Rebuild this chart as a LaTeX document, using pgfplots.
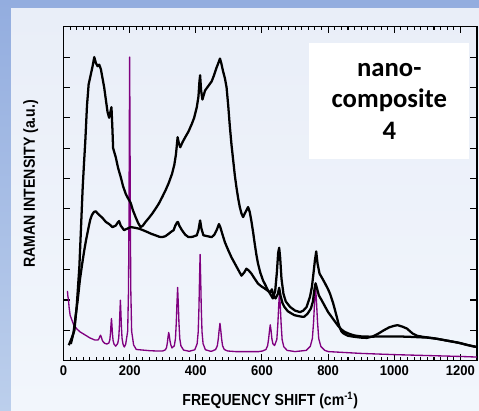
\documentclass[border=0pt]{standalone}
\usepackage{pgfplots}
\pgfplotsset{compat=1.18}
\usepackage{fontspec}
\setmainfont{Liberation Sans}
\newfontfamily\labfont{Liberation Sans}[FakeStretch=0.88]
\newfontfamily\tickfont{Liberation Sans}[FakeStretch=0.93]
\newfontfamily\carlito{Carlito}
\definecolor{bgtop}{HTML}{93ADDF}
\definecolor{bgbot}{HTML}{BCCFEC}
\definecolor{pantop}{HTML}{E9EEF8}
\definecolor{panbot}{HTML}{F2F6FC}
\definecolor{ramanpurple}{HTML}{800080}
\begin{document}
\begin{tikzpicture}
\path[use as bounding box] (0,0) rectangle (359.25pt,308.25pt);
\shade[top color=bgtop, bottom color=bgbot] (0,0) rectangle (359.25pt,308.25pt);
\shade[top color=pantop, bottom color=panbot] (8.25pt,0) rectangle (359.25pt,301.5pt);
\begin{axis}[
  at={(47.625pt,37.725pt)}, anchor=south west,
  scale only axis, width=310.1pt, height=250.5pt,
  xmin=0, xmax=1250, ymin=0, ymax=11,
  axis line style={line width=1pt},
  xtick={0,200,...,1200}, minor x tick num=9,
  ytick={1,2,...,10}, yticklabels={},
  tick align=inside, major tick length=5pt, minor tick length=2.5pt,
  every tick/.style={black, line width=0.8pt},
  xtick pos=both, ytick pos=both,
  /pgf/number format/assume math mode=true,
  /pgf/number format/1000 sep={},
  ticklabel style={font=\tickfont\bfseries\fontsize{10.5}{12}\selectfont},
  xlabel={FREQUENCY SHIFT (cm\textsuperscript{-1})},
  ylabel={RAMAN INTENSITY (a.u.)},
  label style={font=\labfont\bfseries\fontsize{12}{14}\selectfont},
  xlabel style={at={(axis description cs:0.5,-0.118)}, anchor=center},
  ylabel style={at={(axis description cs:-0.079,0.53)}, anchor=center},
  clip=true,
]
% purple reference spectrum
\addplot[ramanpurple, line width=1pt, line join=round] coordinates {
(12,2.3) (13,2.15) (15,2.0) (17,1.75) (20,1.5) (25,1.35) (30,1.2) (40,1.05) (50,0.95) (65,0.85) (80,0.75) (95,0.68)
(99,0.68) (104,0.68) (107,0.72) (109.5,0.79) (112,0.84) (114.5,0.77) (117,0.68) (120,0.62) (125,0.57)
(131,0.55) (137,0.58) (140,0.68) (142,0.9) (143.5,1.17) (145,1.39) (146.5,1.16) (148,0.88) (150,0.66) (153,0.54) (158,0.48)
(164,0.57) (167,0.75) (169,1.14) (170.5,1.6) (172,1.99) (173.5,1.6) (175,1.13) (177,0.74) (180,0.54) (184,0.45)
(188,0.54) (194,0.97) (196.5,2.31) (198,4.72) (199,7.6) (200,10.0) (201,7.6) (202,4.72) (203.5,2.31) (206,0.97) (212,0.52)
(220,0.37) (240,0.35) (260,0.33) (280,0.32)
(300,0.32) (308,0.36) (311.5,0.43) (314,0.59) (316,0.78) (318,0.93) (320,0.82) (322,0.65) (324.5,0.52)
(328,0.42) (335,0.49) (338.5,0.73) (341,1.26) (343,1.89) (345,2.41) (347,1.89) (349,1.26) (351.5,0.73) (355,0.49) (363,0.35) (380,0.31)
(397,0.36) (404,0.56) (407.2,0.94) (409.5,1.74) (411.25,2.7) (413,3.5) (414.75,2.7) (416.5,1.74) (418.8,0.94) (422,0.56) (429,0.36) (445,0.31)
(450,0.32) (460,0.37) (465,0.49) (468,0.72) (470.5,1.0) (473,1.23) (475.5,1.0) (478,0.72) (481,0.49) (486,0.37) (496,0.32)
(520,0.3) (560,0.3) (590,0.3)
(602,0.32) (612,0.37) (617,0.49) (620,0.71) (622.5,0.96) (625,1.18) (627.5,1.0) (630,0.72) (633,0.56) (638,0.5) (640,0.55)
(645,0.71) (648,1.2) (650.5,1.78) (653,2.27) (655.5,1.78) (658,1.2) (661,0.69) (666,0.46) (676,0.34) (700,0.3)
(734,0.34) (746,0.47) (752.4,0.73) (756,1.27) (759,1.91) (762,2.45) (765,1.91) (768,1.27) (771.6,0.73) (778,0.47) (790,0.34)
(800,0.3) (850,0.27) (900,0.24) (1000,0.2) (1100,0.17) (1200,0.14) (1250,0.12)
};
% black spectrum 1 (two broad maxima)
\addplot[black, line width=1.7pt, line join=round] coordinates {
(16,0.51) (25,0.75) (33,1.0) (40,1.8) (48,3.1) (53,4.4) (58,5.7) (62,6.5) (66,7.25) (71,8.4) (76,9.1) (83,9.45) (88,9.7)
(93,10.0) (98,9.8) (103,9.7) (108,9.75) (113,9.6) (118,9.3) (123,9.0) (128,8.6) (133,8.2) (138,8.0) (142,8.2) (145,8.35)
(148,7.6) (150,7.0) (154,6.85) (158,6.7) (165,6.35) (173,6.05) (180,5.75) (188,5.5) (195,5.35) (203,5.2) (210,4.95)
(218,4.73) (225,4.55) (233,4.4) (240,4.45) (248,4.57) (258,4.7) (268,4.84) (278,5.0) (288,5.17) (298,5.38) (308,5.6)
(318,5.85) (328,6.15) (335,6.45) (340,6.8) (345,7.36) (349,7.15) (353,7.03) (360,7.2) (368,7.36) (378,7.55) (388,7.8)
(395,8.0) (403,8.35) (408,8.7) (411,9.2) (413,9.4) (416,8.9) (420,8.6) (428,8.9) (438,9.05) (448,9.2) (455,9.4)
(463,9.66) (468,9.8) (473,9.95) (477,9.8) (482,9.55) (488,9.3) (493,9.0) (498,8.4) (503,7.7) (508,7.1) (513,6.6)
(518,6.1) (523,5.7) (528,5.35) (533,5.06) (538,4.85) (543,4.73) (548,4.85) (553,4.95) (558,5.06) (563,4.9) (568,4.6)
(573,4.25) (578,3.86) (583,3.5) (588,3.2) (595,2.9) (603,2.65) (610,2.5) (618,2.32) (625,2.2) (633,2.05) (640,2.3)
(645,2.9) (649,3.55) (652,3.72) (655,3.4) (659,2.7) (665,2.2) (672,1.95) (685,1.77) (700,1.65) (715,1.6) (725,1.65)
(735,1.77) (745,2.1) (751,2.43) (756,2.9) (760,3.3) (764,3.6) (768,3.2) (774,2.87) (783,2.7) (791,2.54) (800,2.35)
(806,2.2) (815,1.9) (820,1.7) (826,1.45) (833,1.15) (840,0.97) (846,0.9) (860,0.82) (877,0.79) (900,0.76) (917,0.75)
(935,0.8) (950,0.88) (968,1.0) (985,1.1) (1000,1.15) (1010,1.17) (1025,1.12) (1038,1.06) (1055,0.9) (1069,0.82)
(1090,0.78) (1119,0.74) (1150,0.68) (1170,0.64) (1200,0.58) (1220,0.52) (1235,0.48) (1250,0.45)
};
% black spectrum 2 (flat)
\addplot[black, line width=1.7pt, line join=round] coordinates {
(22,0.55) (30,0.9) (37,1.5) (43,2.0) (50,2.7) (58,3.3) (63,3.65) (68,3.96) (76,4.4) (81,4.65) (86,4.8) (92,4.9)
(98,4.92) (103,4.85) (108,4.8) (118,4.7) (128,4.57) (138,4.5) (148,4.4) (158,4.45) (164,4.55) (168,4.6) (173,4.45)
(183,4.3) (193,4.35) (203,4.4) (215,4.38) (228,4.35) (240,4.3) (253,4.24) (265,4.18) (278,4.13) (290,4.08) (298,4.07)
(308,4.1) (318,4.18) (326,4.25) (333,4.3) (338,4.45) (343,4.55) (346,4.57) (350,4.45) (358,4.3) (368,4.15) (378,4.07)
(390,4.08) (403,4.13) (408,4.3) (413,4.62) (417,4.35) (423,4.13) (435,4.1) (448,4.07) (456,4.15) (463,4.3) (470,4.5)
(474,4.4) (480,4.18) (488,3.9) (498,3.64) (508,3.4) (518,3.2) (528,3.0) (538,2.8) (546,2.9) (553,3.03) (560,2.97)
(568,2.87) (578,2.7) (588,2.54) (598,2.45) (608,2.38) (618,2.3) (625,2.25) (630,2.35) (635,2.15) (641,2.05) (648,2.2)
(652,2.4) (656,2.15) (662,1.9) (668,1.77) (678,1.63) (690,1.55) (698,1.5) (710,1.47) (720,1.45) (728,1.45) (738,1.55)
(748,1.72) (754,1.95) (758,2.3) (762,2.55) (766,2.4) (772,2.15) (780,2.0) (790,1.8) (800,1.6) (810,1.45) (820,1.3)
(830,1.15) (840,1.03) (850,0.95) (865,0.88) (880,0.83) (900,0.8) (930,0.79) (960,0.8) (1000,0.8) (1040,0.79)
(1080,0.77) (1100,0.76) (1130,0.72) (1160,0.66) (1190,0.6) (1220,0.52) (1250,0.45)
};
\node[fill=white, inner sep=0pt, minimum width=119.8pt, minimum height=87pt, align=center,
      font=\carlito\bfseries\fontsize{20}{23.8}\selectfont] at (axis cs:985,8.54) {nano-\\composite\\4};
\end{axis}
\end{tikzpicture}
\end{document}
